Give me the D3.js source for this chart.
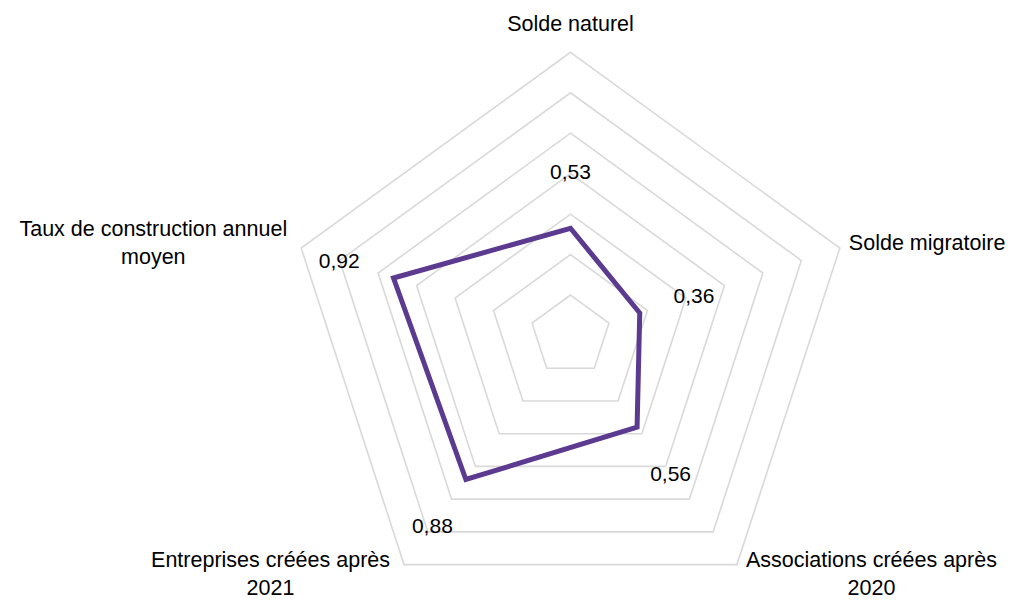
<!DOCTYPE html>
<html lang="fr">
<head>
<meta charset="utf-8">
<title>Radar</title>
<script src="https://cdn.jsdelivr.net/npm/d3@7"></script>
<style>
  html, body { margin: 0; padding: 0; background: #ffffff; }
  svg { display: block; }
  text { font-family: "Liberation Sans", Arial, sans-serif; fill: #000000; }
</style>
</head>
<body>
<svg id="chart" width="1014" height="600"></svg>
<script>
// Indicateurs (axes du radar, dans le sens horaire à partir du haut)
const categories = [
  "Solde naturel",
  "Solde migratoire",
  "Associations créées après\n2020",
  "Entreprises créées après\n2021",
  "Taux de construction annuel\nmoyen"
];
// Valeurs de la série
const values = [0.53, 0.36, 0.56, 0.88, 0.92];
// Graduations des anneaux de la grille
const ticks = [0.2, 0.4, 0.6, 0.8, 1.0, 1.2, 1.4];

const svg = d3.select("#chart");
const cx = 570.5, cy = 335.5, radius = 283.2;

const r = d3.scaleLinear().domain([0, 1.4]).range([0, radius]);
const angle = d3.scaleLinear().domain([0, categories.length]).range([0, 2 * Math.PI]);

const g = svg.append("g").attr("transform", `translate(${cx},${cy})`);

// Grille pentagonale
const ring = d3.lineRadial()
  .angle((d, i) => angle(i))
  .radius(d => r(d))
  .curve(d3.curveLinearClosed);

g.append("g").attr("class", "grid")
  .selectAll("path")
  .data(ticks)
  .join("path")
  .attr("d", t => ring(categories.map(() => t)))
  .attr("fill", "none")
  .attr("stroke", "#d9d9d9")
  .attr("stroke-width", 1.6);

// Tracé de la série
const line = d3.lineRadial()
  .angle((d, i) => angle(i))
  .radius(d => r(d))
  .curve(d3.curveLinearClosed);

g.append("path")
  .datum(values)
  .attr("d", line)
  .attr("fill", "none")
  .attr("stroke", "#5b3a8f")
  .attr("stroke-width", 5)
  .attr("stroke-linejoin", "miter");

// Étiquettes de valeurs, décalées vers l'extérieur le long de chaque axe
const fr = d3.formatLocale({ decimal: ",", thousands: " ", grouping: [3], currency: ["", " €"] });
const fmt = fr.format(".2f");
const labelOffset = 57;

g.append("g").attr("class", "values")
  .selectAll("text")
  .data(values)
  .join("text")
  .attr("x", (d, i) => Math.sin(angle(i)) * (r(d) + labelOffset))
  .attr("y", (d, i) => -Math.cos(angle(i)) * (r(d) + labelOffset))
  .attr("dy", "0.35em")
  .attr("text-anchor", "middle")
  .style("font-size", "21px")
  .text(d => fmt(d));

// Libellés des axes autour des sommets
const lineHeight = 28;
const axisLabels = g.append("g").attr("class", "axis-labels");

categories.forEach((label, i) => {
  const a = angle(i);
  const s = Math.sin(a), c = Math.cos(a);
  const vx = s * radius, vy = -c * radius;
  const lines = label.split("\n");
  const t = axisLabels.append("text")
    .attr("text-anchor", "middle")
    .style("font-size", "21.5px");
  lines.forEach((ln, k) => {
    t.append("tspan").attr("x", 0).attr("y", k * lineHeight).text(ln);
  });
  const width = d3.max(t.selectAll("tspan").nodes(), n => n.getComputedTextLength());

  let x, y;
  if (Math.abs(s) < 0.1) {
    x = vx;
    y = vy - 21 - (lines.length - 1) * lineHeight;
  } else {
    x = s > 0 ? vx + 9 + width / 2 : vx - 14 - width / 2;
    if (c < -0.5) {
      y = vy + 2.5;
    } else {
      y = vy + 2 - (lines.length - 1) * lineHeight / 2;
    }
  }
  t.attr("transform", `translate(${x},${y})`);
});
</script>
</body>
</html>
